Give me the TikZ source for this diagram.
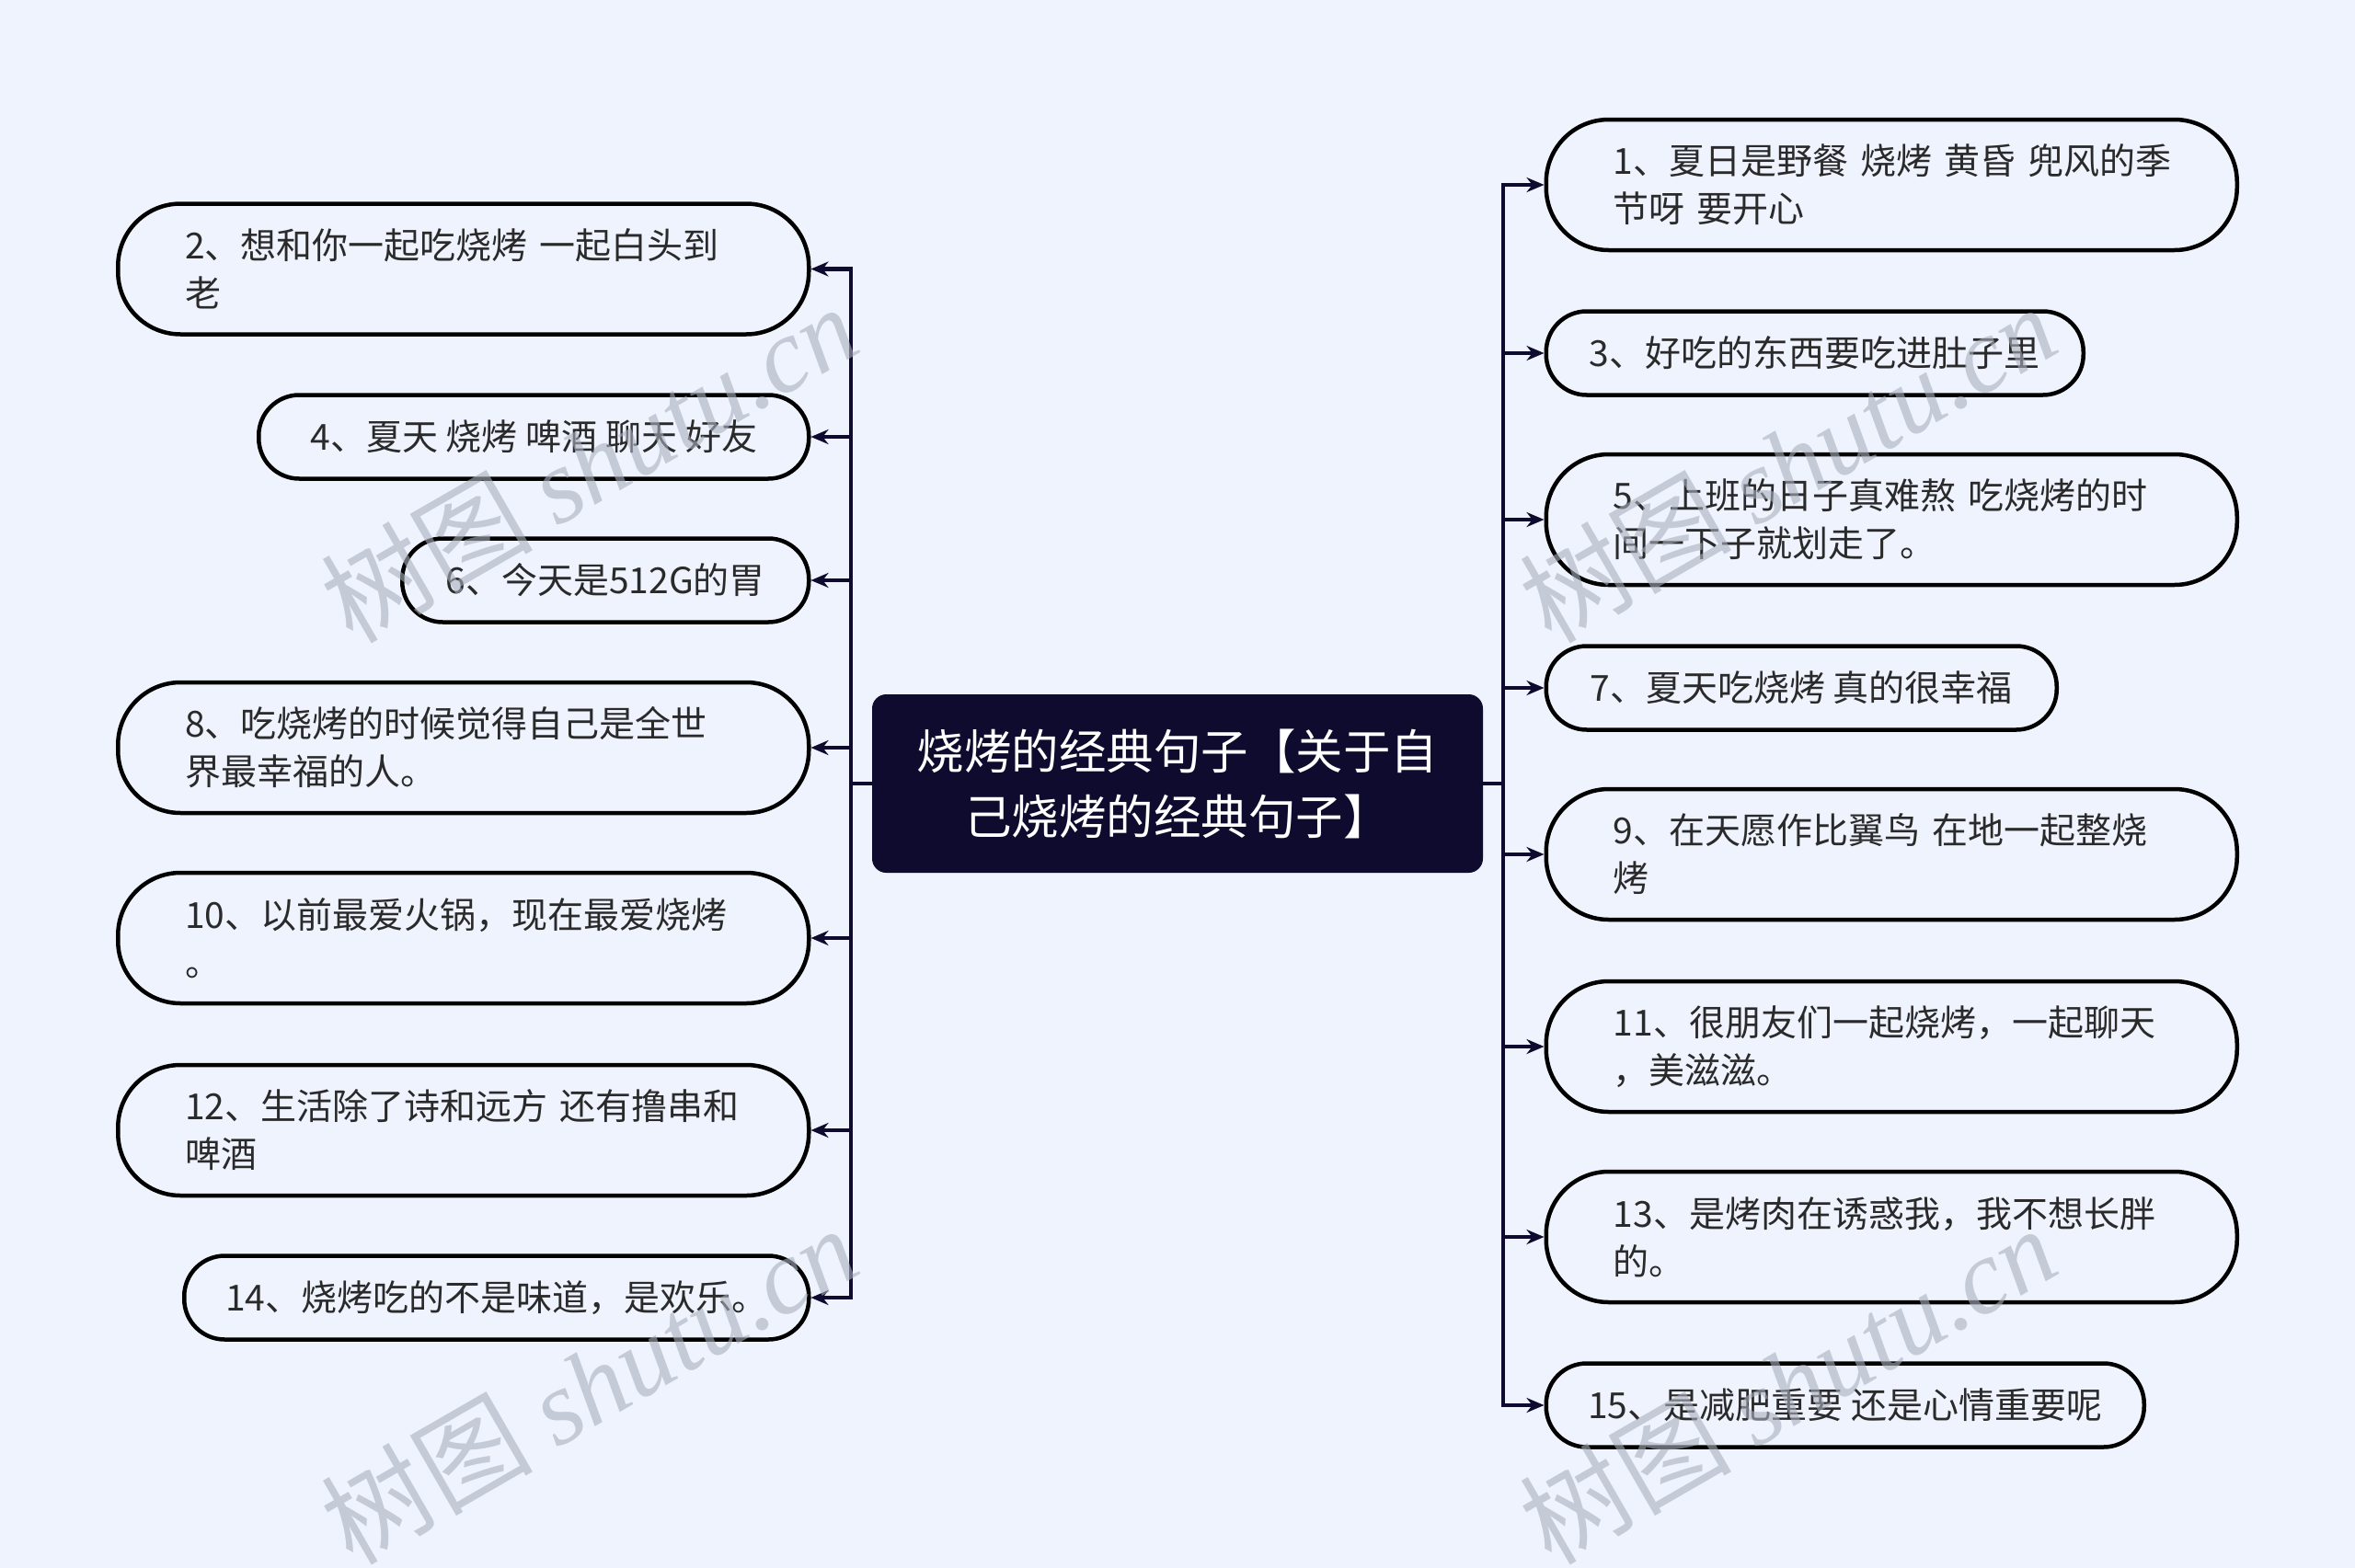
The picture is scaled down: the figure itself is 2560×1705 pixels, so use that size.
\documentclass[tikz,border=0pt]{standalone}
\usepackage{fontspec}
\setmainfont{Noto Sans CJK SC}
\newfontfamily\wmserif{Liberation Serif}
\usetikzlibrary{arrows.meta}
\definecolor{bg}{HTML}{EEF3FE}
\definecolor{navy}{HTML}{0E0B2E}
\definecolor{txt}{HTML}{2A2A2A}
\definecolor{wm}{HTML}{A9AFBC}
\begin{document}
\begin{tikzpicture}[x=1pt,y=-1pt,
  leaf/.style={draw=black, line width=4.5pt, fill=bg, text=txt,
    font=\fontsize{39}{52}\selectfont, rounded corners=44pt,
    minimum height=91pt, inner sep=0pt, align=center},
  leaftwo/.style={leaf, minimum height=142pt, text width=605pt,
    align=left, inner xsep=73pt, rounded corners=68pt},
  lnode/.style={anchor=east},
  rnode/.style={anchor=west},
  root/.style={fill=navy, draw=navy, line width=1pt, rounded corners=15pt,
    text=white, font=\fontsize{51.5}{71}\selectfont, align=center,
    minimum width=663pt, minimum height=193pt, inner sep=0pt},
  conn/.style={draw=navy, line width=4.5pt, -{Stealth[length=19pt,width=16pt]}},
  wmark/.style={text=wm, opacity=0.6, rotate=30, font=\fontsize{115}{120}\selectfont}
]
\useasboundingbox[fill=bg] (0,0) rectangle (2560,1705);

% root
\node[root] (c) at (1280,852) {烧烤的经典句子【关于自\\己烧烤的经典句子】};

% left leaves
\node[leaftwo,lnode] (l2)  at (881.5,292.5) {2、想和你一起吃烧烤 一起白头到\\老};
\node[leaf,lnode,minimum width=598pt] (l4) at (881.5,475) {4、夏天 烧烤 啤酒 聊天 好友};
\node[leaf,lnode,minimum width=442pt] (l6) at (881.5,631) {6、今天是512G的胃};
\node[leaftwo,lnode] (l8)  at (881.5,813) {8、吃烧烤的时候觉得自己是全世\\界最幸福的人。};
\node[leaftwo,lnode] (l10) at (881.5,1020) {10、以前最爱火锅，现在最爱烧烤\\。};
\node[leaftwo,lnode] (l12) at (881.5,1229) {12、生活除了诗和远方 还有撸串和\\啤酒};
\node[leaf,lnode,minimum width=679pt] (l14) at (881.5,1411) {14、烧烤吃的不是味道，是欢乐。};

% right leaves
\node[leaftwo,rnode] (r1)  at (1678.5,201) {\mbox{1、夏日是野餐 烧烤 黄昏 兜风的季}\\节呀 要开心};
\node[leaf,rnode,minimum width=584pt] (r3) at (1678.5,384) {3、好吃的东西要吃进肚子里};
\node[leaftwo,rnode] (r5)  at (1678.5,565) {5、上班的日子真难熬 吃烧烤的时\\间一下子就划走了。};
\node[leaf,rnode,minimum width=555pt] (r7) at (1678.5,748) {7、夏天吃烧烤 真的很幸福};
\node[leaftwo,rnode] (r9)  at (1678.5,929) {9、在天愿作比翼鸟 在地一起整烧\\烤};
\node[leaftwo,rnode] (r11) at (1678.5,1138) {11、很朋友们一起烧烤，一起聊天\\，美滋滋。};
\node[leaftwo,rnode] (r13) at (1678.5,1345) {13、是烤肉在诱惑我，我不想长胖\\的。};
\node[leaf,rnode,minimum width=650pt] (r15) at (1678.5,1528) {15、是减肥重要 还是心情重要呢};

% spines
\coordinate (ls) at (925,852);
\coordinate (rs) at (1634,852);
\foreach \n in {l2,l4,l6,l8,l10,l12,l14}
  \draw[conn] (c.west) -- (ls) |- (\n.east);
\foreach \n in {r1,r3,r5,r7,r9,r11,r13,r15}
  \draw[conn] (c.east) -- (rs) |- (\n.west);

% watermarks
\node[wmark] (w1) at (640,503) {树图 {\wmserif\itshape shutu.cn}};
\node[wmark] (w2) at (640,1505) {树图 {\wmserif\itshape shutu.cn}};
\node[wmark] (w3) at (1943,503) {树图 {\wmserif\itshape shutu.cn}};
\node[wmark] (w4) at (1943,1505) {树图 {\wmserif\itshape shutu.cn}};
\end{tikzpicture}
\end{document}
